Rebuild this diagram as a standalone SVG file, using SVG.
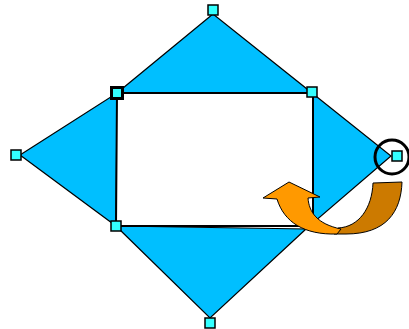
<svg xmlns="http://www.w3.org/2000/svg" width="409" height="329" viewBox="0 0 409 329">
<style>
.tri{fill:#00BFFF;stroke:#000;stroke-width:1.2;stroke-linejoin:miter}
.rect{fill:#fff;stroke:#000;stroke-width:2}
.h{fill:#33FFFF;stroke:#000;stroke-width:1.5}
.orange{fill:#FF9900;stroke:#000;stroke-width:1}
.brown{fill:#CC7A00;stroke:#000;stroke-width:1}
</style>
<rect width="409" height="329" fill="#fff"/>
<g id="tri-top"><polygon class="tri" points="213,14 117,93 312,93"/></g>
<g id="tri-left"><polygon class="tri" points="20,155 117,93 116,226"/></g>
<g id="tri-bottom"><polygon class="tri" points="116,226 306,229 210,318"/></g>
<g id="tri-right"><polygon class="tri" points="312,93 391,156 306,229"/></g>
<g id="rectangle"><polygon class="rect" points="117,93 313,93 313,226 116,226"/></g>
<g id="arrow">
<path class="brown" d="M373,183 L402,182 C401,212 386,234 346,234 L334,234 L338,228 C359,227 372,208 373,183 Z"/>
<path class="orange" d="M263,198 L289,182 L320,197 L308,198 C309,212 317,224 341,229 L337,234 C304,235 284,222 277,199 Z"/>
</g>
<g id="handles">
<rect class="h" x="208" y="5" width="10" height="10"/>
<rect class="h" x="11" y="150" width="10" height="10"/>
<rect class="h" x="205" y="318" width="10" height="10"/>
<rect class="h" x="392" y="151" width="10" height="10"/>
<rect class="h" x="307" y="87" width="10" height="10"/>
<rect class="h" x="111" y="221" width="10" height="10"/>
<rect x="111.5" y="87.5" width="11" height="11" fill="#33FFFF" stroke="#000" stroke-width="3"/>
</g>
<g id="marker-circle"><circle cx="392" cy="157" r="17" fill="none" stroke="#000" stroke-width="3"/></g>
<g id="connectors"></g>
</svg>
